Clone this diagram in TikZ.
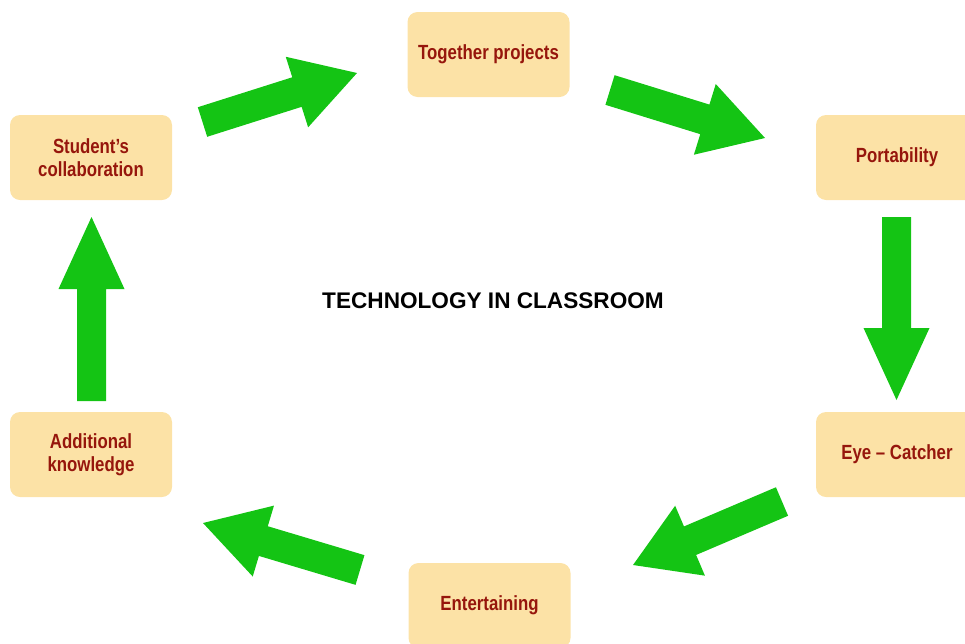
\documentclass[tikz,border=0pt]{standalone}
\usepackage{fontspec}
\setmainfont{Liberation Sans}
\newfontfamily\labelfont[FakeStretch=0.82]{Liberation Sans}
\usetikzlibrary{calc}
\definecolor{boxfill}{RGB}{252,226,166}
\definecolor{boxtext}{RGB}{150,22,12}
\definecolor{arrowgreen}{RGB}{20,196,20}

% Block arrow from tail #1 to tip #2: half shaft width #3, half head width #4, head length #5
\newcommand{\blockarrow}[5]{%
  \coordinate (hb) at ($(#2)!#5!(#1)$);
  \fill[arrowgreen] ($(#1)!#3!90:(#2)$) -- ($(hb)!#3!-90:(#1)$) -- ($(hb)!#4!-90:(#1)$)
    -- (#2) -- ($(hb)!#4!90:(#1)$) -- ($(hb)!#3!90:(#1)$) -- ($(#1)!#3!-90:(#2)$) -- cycle;}

\begin{document}
\begin{tikzpicture}[x=1pt,y=-1pt,
  stagebox/.style={fill=boxfill, rounded corners=10pt, minimum width=162pt,
    minimum height=85pt, inner sep=0pt, align=center, text=boxtext,
    font=\labelfont\bfseries\fontsize{20.5}{23}\selectfont},
  titletext/.style={font=\bfseries\fontsize{22.6}{26}\selectfont, text=black}]
\useasboundingbox (0,0) rectangle (965,643);
\clip (0,0) rectangle (965,643);

% stages of the cycle
\node[stagebox] (collab) at (91,157.5) {Student’s\\collaboration};
\node[stagebox] (together) at (488.5,54.5) {Together projects};
\node[stagebox] (portab) at (897,157.5) {Portability};
\node[stagebox] (eye) at (897,454.5) {Eye – Catcher};
\node[stagebox] (entert) at (489.5,605.5) {Entertaining};
\node[stagebox] (addit) at (91,454.5) {Additional\\knowledge};

\node[titletext] (title) at (493,301) {TECHNOLOGY IN CLASSROOM};

% arrow end points between the stages
\coordinate (t1) at (202.5,122); \coordinate (h1) at (357,73);
\coordinate (t2) at (610,90);    \coordinate (h2) at (765,138);
\coordinate (t3) at (896.5,217); \coordinate (h3) at (896.5,400);
\coordinate (t4) at (782,501.5); \coordinate (h4) at (633,565);
\coordinate (t5) at (360,570);   \coordinate (h5) at (203,523);
\coordinate (t6) at (91.5,401);  \coordinate (h6) at (91.5,217);

\blockarrow{t1}{h1}{15.5pt}{37pt}{63pt}
\blockarrow{t2}{h2}{15.5pt}{37pt}{63pt}
\blockarrow{t3}{h3}{14.5pt}{33pt}{72pt}
\blockarrow{t4}{h4}{15.5pt}{38pt}{62pt}
\blockarrow{t5}{h5}{15.5pt}{37pt}{63pt}
\blockarrow{t6}{h6}{14.5pt}{33pt}{72pt}
\end{tikzpicture}
\end{document}
